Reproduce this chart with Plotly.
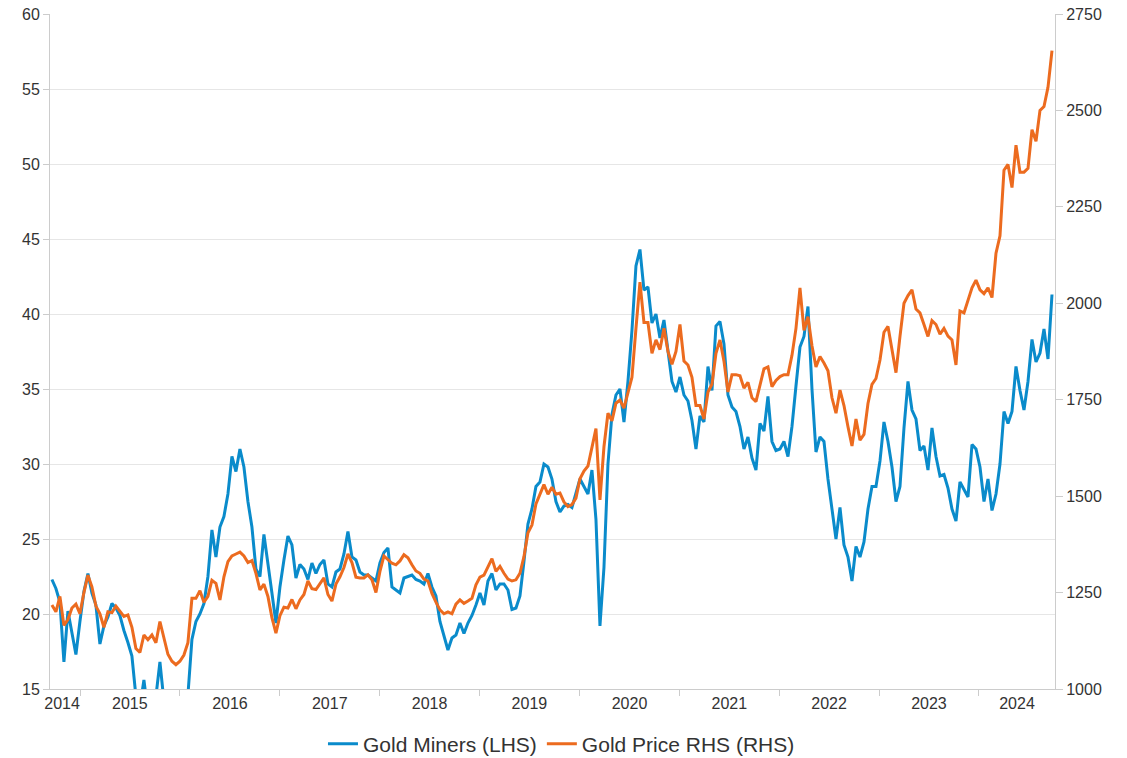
import pandas as pd
import plotly.graph_objects as go

# ---- data (roughly semi-monthly samples) ----
start_date = "2014-09-20"
end_date = "2024-09-24"

gold_miners = [
    22.3, 21.7, 20.8, 16.8, 20.2, 18.6, 17.3, 19.5, 21.5, 22.7,
    21.4, 20.6, 18.0, 19.2, 19.8, 20.7, 20.4, 19.9, 18.9, 18.1,
    17.2, 14.5, 13.8, 15.6, 13.5, 13.0, 14.5, 16.8, 14.2, 12.8,
    12.5, 12.8, 12.6, 13.2, 14.6, 18.3, 19.5, 20.0, 20.7, 22.5,
    25.6, 23.8, 25.8, 26.5,
    28.0, 30.5, 29.5, 31.0, 29.8, 27.5, 25.8, 23.0, 22.5, 25.3,
    23.5, 21.4, 19.4, 21.8, 23.6, 25.2, 24.6, 22.4, 23.3, 23.0,
    22.3, 23.4, 22.7, 23.3, 23.6, 22.0, 21.8, 22.8, 23.0, 24.0,
    25.5, 23.8, 23.6, 22.8, 22.6, 22.6, 22.4, 22.2, 23.4, 24.1,
    24.4, 21.8, 21.6, 21.4, 22.4, 22.5, 22.6, 22.3, 22.2, 22.0,
    22.7, 21.8, 21.2, 19.5, 18.6, 17.6, 18.4, 18.6, 19.4, 18.7,
    19.4, 19.9, 20.6, 21.4, 20.6, 22.2, 22.7, 21.6, 22.0, 22.0,
    21.6, 20.3, 20.4, 21.2, 23.5, 26.0, 27.0, 28.5, 28.8, 30.0,
    29.8, 29.0, 27.5, 26.8, 27.2, 27.3, 27.1, 28.0, 29.0, 28.5,
    28.0, 29.6, 26.3, 19.2, 23.1,
    30.0, 33.3, 34.6, 35.0, 32.8, 35.5, 38.9, 43.2, 44.3, 41.6,
    41.8, 39.4, 40.0, 38.4, 39.6, 37.5, 35.5, 34.8, 35.8, 34.6,
    34.2, 32.9, 31.0, 33.2, 32.8, 36.5, 34.9, 39.2, 39.5, 38.0,
    34.6, 33.8, 33.5, 32.5, 31.0, 31.8, 30.4, 29.6, 32.7, 32.2,
    34.5, 31.5, 30.9,
    31.0, 31.5, 30.5, 32.5, 35.2, 37.8, 38.5, 40.5, 35.0, 30.8,
    31.8, 31.5, 29.0, 26.8, 25.0, 27.1, 24.6, 23.8, 22.2, 24.5,
    23.8, 24.8, 27.0, 28.5, 28.5, 30.2, 32.8, 31.5, 29.8, 27.5,
    28.5, 32.4, 35.5, 33.6, 33.0, 30.9, 31.2, 29.6, 32.4, 30.5,
    29.2, 29.3, 28.4, 27.0, 26.2, 28.8, 28.3, 27.8, 31.3, 31.0,
    29.8, 27.5, 29.0, 26.9, 28.0, 30.0, 33.5, 32.7, 33.5, 36.5,
    34.9, 33.6, 35.5, 38.3, 36.8, 37.4, 39.0, 37.0, 41.3,
]

gold_price = [
    1218, 1200, 1240, 1165, 1180, 1210, 1220, 1195, 1250, 1295,
    1265, 1215, 1195, 1160, 1200, 1198, 1215, 1200, 1188, 1192,
    1160, 1105, 1095, 1140, 1128, 1140, 1120, 1175, 1130, 1090,
    1072, 1063, 1072, 1088, 1120, 1235, 1235, 1255, 1225, 1240,
    1282, 1274, 1231, 1291,
    1330, 1345, 1350, 1355, 1345, 1328, 1333, 1300, 1257, 1272,
    1240, 1185, 1145, 1190, 1212, 1210, 1232, 1208, 1231, 1245,
    1280, 1260, 1258, 1274, 1288, 1245, 1228, 1272, 1291, 1315,
    1350, 1328, 1290, 1288, 1288, 1296, 1283, 1250, 1305, 1345,
    1335, 1326, 1322, 1332, 1348, 1340, 1322, 1306, 1300, 1285,
    1280, 1248, 1225, 1205, 1195, 1200, 1195, 1220, 1231, 1222,
    1228, 1235, 1270, 1290, 1295, 1315, 1338, 1305, 1318, 1300,
    1285, 1280, 1283, 1300, 1343, 1405, 1425, 1480, 1505, 1530,
    1505, 1523, 1505, 1508, 1485, 1473, 1478, 1495, 1545, 1565,
    1578, 1630, 1675, 1490, 1628,
    1715, 1695, 1741, 1749, 1728, 1772, 1808, 1935, 2055, 1950,
    1950, 1870, 1905, 1880, 1935, 1875, 1842, 1875, 1945, 1850,
    1840, 1808, 1735, 1735, 1700, 1770, 1790, 1870, 1905, 1850,
    1770, 1815, 1815, 1812, 1780, 1795, 1755, 1745, 1792, 1830,
    1835, 1784, 1800,
    1810, 1815, 1815, 1865, 1935, 2040, 1930, 1965, 1890, 1835,
    1862, 1845, 1825, 1755, 1715, 1775, 1735, 1680, 1630, 1700,
    1645, 1660, 1740, 1790, 1805, 1853, 1925, 1940, 1875, 1820,
    1914, 2000, 2020, 2035, 1985, 1975, 1945, 1914, 1955, 1945,
    1920, 1935, 1915, 1905, 1840, 1980, 1975, 2005, 2040, 2060,
    2035, 2025, 2040, 2015, 2130, 2175, 2345, 2360, 2300, 2410,
    2340, 2340, 2350, 2450, 2420, 2500, 2510, 2560, 2655,
]

year_labels = ["2014", "2015", "2016", "2017", "2018", "2019",
               "2020", "2021", "2022", "2023", "2024"]

# ---- figure ----
dates = pd.date_range(start_date, end_date, periods=len(gold_miners))

x_start = pd.Timestamp("2014-09-13")
x_end = pd.Timestamp("2024-10-05")

label_pos = [pd.Timestamp("2014-10-27")]
label_pos += [pd.Timestamp(f"{y}-07-02") for y in range(2015, 2024)]
label_pos += [pd.Timestamp("2024-01-01") + (x_end - pd.Timestamp("2024-01-01")) / 2]
year_bounds = [pd.Timestamp(f"{y}-01-01") for y in range(2015, 2025)]

blue = "#0A8BCB"
orange = "#EC6B1F"
axis_grey = "#cccccc"
text_col = "#333333"

fig = go.Figure()
fig.add_trace(go.Scatter(
    x=dates, y=gold_miners, name="Gold Miners (LHS)", mode="lines",
    line=dict(color=blue, width=3), yaxis="y",
))
fig.add_trace(go.Scatter(
    x=dates, y=gold_price, name="Gold Price RHS (RHS)", mode="lines",
    line=dict(color=orange, width=3), yaxis="y2",
))

fig.update_layout(
    width=1127, height=758,
    margin=dict(l=50, r=72, t=14, b=69, autoexpand=False),
    paper_bgcolor="white", plot_bgcolor="white",
    font=dict(family="Arial, Liberation Sans, sans-serif", size=16, color=text_col),
    showlegend=True,
    legend=dict(
        orientation="h", xref="container", yref="container",
        x=0.4982, xanchor="center", y=0.0185, yanchor="middle",
        font=dict(size=21, color=text_col), itemwidth=30,
        bgcolor="rgba(0,0,0,0)",
    ),
    xaxis=dict(
        type="date", range=[x_start, x_end], automargin=False,
        tickmode="array", tickvals=label_pos, ticktext=year_labels,
        ticks="", showgrid=False, zeroline=False,
        showline=True, linecolor=axis_grey, linewidth=1,
        tickfont=dict(size=16, color=text_col),
        minor=dict(tickmode="array", tickvals=year_bounds, ticks="outside",
                   ticklen=6, tickcolor=axis_grey, tickwidth=1, showgrid=False),
    ),
    yaxis=dict(
        range=[15, 60], tickmode="linear", tick0=15, dtick=5, automargin=False,
        showgrid=True, gridcolor="#e6e6e6", gridwidth=1, zeroline=False,
        showline=True, linecolor=axis_grey, linewidth=1,
        ticks="outside", ticklen=6, tickcolor=axis_grey,
        tickfont=dict(size=16, color=text_col),
    ),
    yaxis2=dict(
        range=[1000, 2750], tickmode="linear", tick0=1000, dtick=250,
        overlaying="y", side="right", showgrid=False, zeroline=False,
        automargin=False,
        showline=True, linecolor=axis_grey, linewidth=1,
        ticks="outside", ticklen=7, tickcolor=axis_grey,
        tickfont=dict(size=16, color=text_col),
    ),
)

# remove the browser's default 8px body margin so the figure sits at (0, 0)
fig.write_html(
    "out.html",
    config={"displayModeBar": False},
    post_script="document.body.style.margin='0px';",
)
